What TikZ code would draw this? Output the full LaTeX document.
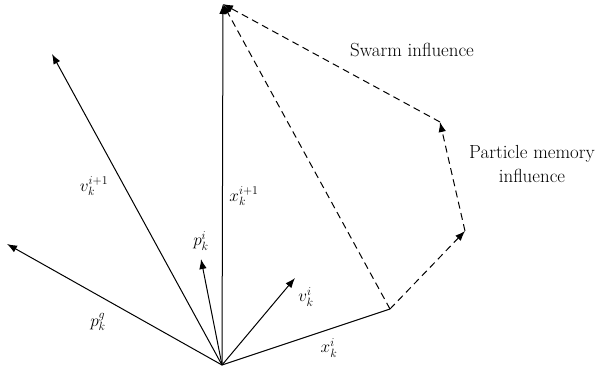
\documentclass[tikz,border=0pt]{standalone}
\usetikzlibrary{arrows.meta}
\begin{document}
\begin{tikzpicture}[x=1bp,y=-1bp,
  vec/.style={line width=1bp,-{Latex[length=10bp,width=7.5bp]}},
  dvec/.style={line width=1bp,dash pattern=on 7bp off 4.5bp,-{Latex[length=10bp,width=7.5bp]}},
  lbl/.style={font=\fontsize{18}{20}\selectfont,inner sep=1bp},
  txt/.style={font=\fontsize{19}{25}\selectfont,align=center,inner sep=1bp}]
\useasboundingbox (0,0) rectangle (603,370);
\coordinate (O) at (222,365);
\coordinate (T) at (223,4);
\coordinate (V1) at (52,54);
\coordinate (PG) at (7,244);
\coordinate (PI) at (201,259);
\coordinate (VI) at (295,278);
\coordinate (XI) at (390,309);
\coordinate (A) at (465,231);
\coordinate (B) at (440,122);
\draw[vec] (O) -- (T);
\draw[vec] (O) -- (V1);
\draw[vec] (O) -- (PG);
\draw[vec] (O) -- (PI);
\draw[vec] (O) -- (VI);
\draw[line width=1bp] (O) -- (XI);
\draw[dvec] (XI) -- (A);
\draw[dvec] (A) -- (B);
\draw[dvec] (B) -- (T);
\draw[dvec] (XI) -- (T);
\node[txt] (sw) at (412,50) {Swarm influence};
\node[txt] (pm) at (532,164) {Particle memory\\influence};
\node[lbl] (lv1) at (94,186) {$v_k^{i+1}$};
\node[lbl] (lx1) at (244,196) {$x_k^{i+1}$};
\node[lbl] (lpi) at (201,241) {$p_k^{i}$};
\node[lbl] (lvi) at (306,297) {$v_k^{i}$};
\node[lbl] (lpg) at (98,322) {$p_k^{g}$};
\node[lbl] (lxi) at (329,348) {$x_k^{i}$};
\end{tikzpicture}
\end{document}
